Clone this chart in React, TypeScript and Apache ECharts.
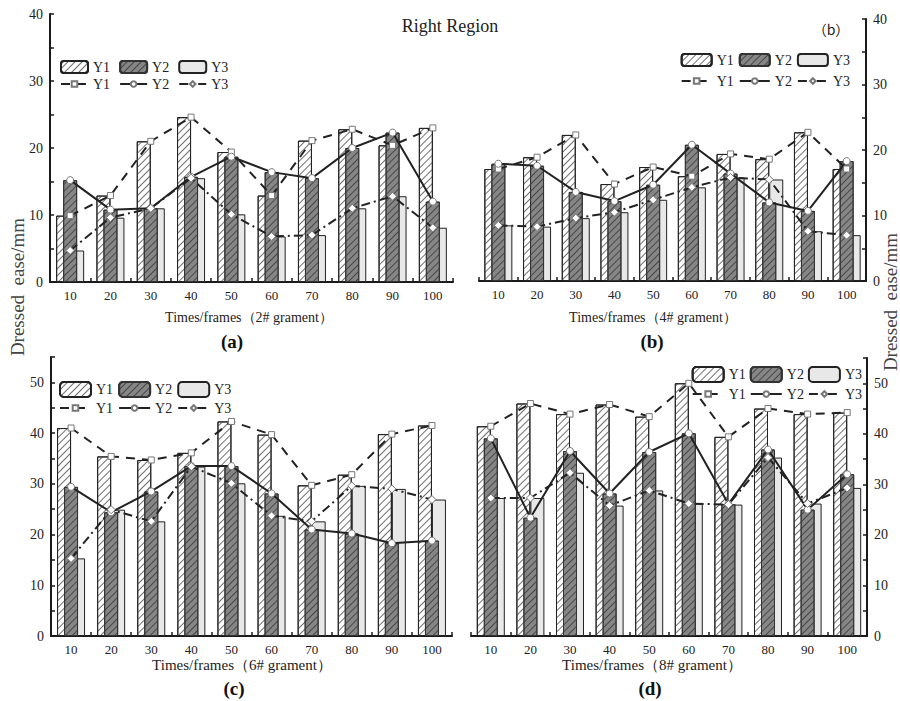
import React, { useEffect, useRef } from "react";
import * as echarts from "echarts";

// Frame counts on the category axis
const categories = ["10", "20", "30", "40", "50", "60", "70", "80", "90", "100"];

// Dressed ease (mm), garment 2#
const g2Y1 = [9.9, 12.9, 21.0, 24.6, 19.4, 12.9, 21.1, 22.8, 20.4, 23.0];
const g2Y2 = [15.2, 10.8, 11.0, 15.7, 18.7, 16.4, 15.5, 20.0, 22.3, 12.0];
const g2Y3 = [4.7, 9.6, 11.0, 15.5, 10.1, 6.8, 7.0, 11.0, 12.8, 8.1];

// Dressed ease (mm), garment 4#
const g4Y1 = [17.1, 18.9, 22.3, 14.8, 17.4, 16.0, 19.4, 18.6, 22.7, 17.1];
const g4Y2 = [17.9, 17.6, 13.6, 12.2, 14.7, 20.8, 16.4, 12.0, 10.7, 18.3];
const g4Y3 = [8.5, 8.3, 9.6, 10.5, 12.4, 14.3, 15.8, 15.5, 7.6, 7.0];

// Dressed ease (mm), garment 6#
const g6Y1 = [41.0, 35.4, 34.7, 36.1, 42.3, 39.7, 29.7, 31.8, 39.8, 41.5];
const g6Y2 = [29.4, 24.4, 28.5, 33.5, 33.5, 28.1, 21.0, 20.2, 18.3, 18.8];
const g6Y3 = [15.3, 24.9, 22.6, 33.4, 30.1, 23.7, 22.6, 29.6, 29.0, 26.9];

// Dressed ease (mm), garment 8#
const g8Y1 = [41.5, 46.0, 43.9, 45.8, 43.4, 50.0, 39.4, 45.0, 43.9, 44.2];
const g8Y2 = [39.1, 23.4, 36.6, 28.2, 36.4, 40.1, 26.1, 36.9, 25.0, 32.0];
const g8Y3 = [27.3, 27.3, 32.3, 25.8, 28.8, 26.2, 26.0, 35.3, 26.2, 29.3];

const garmentNames = ["2#", "4#", "6#", "8#"];
const panelLetters = ["(a)", "(b)", "(c)", "(d)"];
const yMaxes = [40, 40, 55, 55];

const SERIF = '"Liberation Serif", "Times New Roman", serif';
const INK = "#1a1a1a";

// Diagonal "////" hatching for the patterned bars
const hatch = (color: string) => ({
  symbol: "rect",
  symbolSize: 1,
  rotation: -Math.PI / 4,
  color,
  dashArrayX: [1, 0],
  dashArrayY: [1, 4],
});

type Layout = {
  grid: { left: number; top: number; width: number; height: number };
  side: "left" | "right";
  legendPos: { left?: number; right?: number };
  legendTops: [number, number];
  iconW: number;
  iconH: number;
  gap: number;
  nameX: number;
  nameY: number;
  nameSize: number;
  letterX: number;
  letterY: number;
};

const layouts: Layout[] = [
  {
    grid: { left: 50, top: 14, width: 403, height: 268 },
    side: "left",
    legendPos: { left: 60 },
    legendTops: [60, 77],
    iconW: 27,
    iconH: 12,
    gap: 9,
    nameX: 249,
    nameY: 317,
    nameSize: 14,
    letterX: 232,
    letterY: 341,
  },
  {
    grid: { left: 479, top: 19, width: 387, height: 262 },
    side: "right",
    legendPos: { right: 50 },
    legendTops: [53, 74],
    iconW: 30,
    iconH: 12,
    gap: 5,
    nameX: 653,
    nameY: 317,
    nameSize: 14,
    letterX: 652,
    letterY: 341,
  },
  {
    grid: { left: 51, top: 357, width: 401, height: 279 },
    side: "left",
    legendPos: { left: 59 },
    legendTops: [381, 401],
    iconW: 31,
    iconH: 15,
    gap: 5,
    nameX: 242,
    nameY: 665,
    nameSize: 15,
    letterX: 234,
    letterY: 688,
  },
  {
    grid: { left: 471, top: 358, width: 396, height: 278 },
    side: "right",
    legendPos: { right: 38 },
    legendTops: [366, 387],
    iconW: 31,
    iconH: 15,
    gap: 4,
    nameX: 652,
    nameY: 665,
    nameSize: 15,
    letterX: 650,
    letterY: 688,
  },
];

const panelData = [
  [g2Y1, g2Y2, g2Y3],
  [g4Y1, g4Y2, g4Y3],
  [g6Y1, g6Y2, g6Y3],
  [g8Y1, g8Y2, g8Y3],
];

function buildOption() {
  const grid: any[] = [];
  const xAxis: any[] = [];
  const yAxis: any[] = [];
  const series: any[] = [];
  const legend: any[] = [];
  const graphic: any[] = [];

  layouts.forEach((L, i) => {
    grid.push({ ...L.grid, containLabel: false });
    xAxis.push({
      type: "category",
      gridIndex: i,
      data: categories,
      boundaryGap: true,
      axisLine: { lineStyle: { color: INK, width: 2 } },
      axisTick: { show: true, inside: true, length: 4, lineStyle: { color: INK, width: 1.5 } },
      axisLabel: { fontFamily: SERIF, fontSize: 13, color: "#222", margin: 7 },
      splitLine: { show: false },
    });
    yAxis.push({
      type: "value",
      gridIndex: i,
      position: L.side,
      min: 0,
      max: yMaxes[i],
      interval: 5,
      axisLine: { show: true, lineStyle: { color: INK, width: 2 } },
      axisTick: { show: true, inside: true, length: 4, lineStyle: { color: INK, width: 1.5 } },
      axisLabel: {
        fontFamily: SERIF,
        fontSize: 14,
        color: "#222",
        margin: 7,
        formatter: (v: number) => (v % 10 === 0 ? String(v) : ""),
      },
      splitLine: { show: false },
    });

    const [y1, y2, y3] = panelData[i];
    const barBase = {
      type: "bar",
      xAxisIndex: i,
      yAxisIndex: i,
      barWidth: 14,
      barGap: "-50%",
    };
    series.push({
      ...barBase,
      name: "Y1 bar",
      data: y1,
      z: 2,
      itemStyle: { color: "#ffffff", borderColor: "#222", borderWidth: 1, decal: hatch("#707070") },
    });
    series.push({
      ...barBase,
      name: "Y2 bar",
      data: y2,
      z: 3,
      itemStyle: { color: "#868686", borderColor: "#333", borderWidth: 1, decal: hatch("#474747") },
    });
    series.push({
      ...barBase,
      name: "Y3 bar",
      data: y3,
      z: 2,
      itemStyle: { color: "#e8e8e8", borderColor: "#222", borderWidth: 1 },
    });

    const lineBase = {
      type: "line",
      xAxisIndex: i,
      yAxisIndex: i,
      z: 6,
      showSymbol: true,
    };
    series.push({
      ...lineBase,
      name: "Y1 line",
      data: y1,
      symbol: "rect",
      symbolSize: 6,
      lineStyle: { color: "#222", width: 2, type: [9, 7] },
      itemStyle: { color: "#ffffff", borderColor: "#777", borderWidth: 1 },
    });
    series.push({
      ...lineBase,
      name: "Y2 line",
      data: y2,
      symbol: "circle",
      symbolSize: 7,
      lineStyle: { color: "#222", width: 2 },
      itemStyle: { color: "#ffffff", borderColor: "#777", borderWidth: 1 },
    });
    series.push({
      ...lineBase,
      name: "Y3 line",
      data: y3,
      symbol: "diamond",
      symbolSize: 8,
      lineStyle: { color: "#222", width: 2, type: [9, 4, 2, 4] },
      itemStyle: { color: "#ffffff", borderColor: "#777", borderWidth: 1 },
    });

    const legendBase = {
      orient: "horizontal",
      ...L.legendPos,
      itemWidth: L.iconW,
      itemGap: L.gap,
      selectedMode: false,
      padding: 0,
      formatter: (n: string) => n.split(" ")[0],
      textStyle: { fontFamily: SERIF, fontSize: 14, color: "#222" },
    };
    legend.push({
      ...legendBase,
      top: L.legendTops[0],
      itemHeight: L.iconH,
      data: ["Y1 bar", "Y2 bar", "Y3 bar"],
    });
    legend.push({
      ...legendBase,
      top: L.legendTops[1],
      itemHeight: 7,
      data: ["Y1 line", "Y2 line", "Y3 line"],
    });

    graphic.push({
      type: "text",
      x: L.nameX,
      y: L.nameY,
      style: {
        text: `Times/frames（${garmentNames[i]} grament）`,
        font: `${L.nameSize}px ${SERIF}`,
        fill: "#222",
        textAlign: "center",
        textVerticalAlign: "middle",
      },
    });
    graphic.push({
      type: "text",
      x: L.letterX,
      y: L.letterY,
      style: {
        text: panelLetters[i],
        font: `bold 19px ${SERIF}`,
        fill: "#111",
        textAlign: "center",
        textVerticalAlign: "middle",
      },
    });
  });

  graphic.push({
    type: "text",
    x: 450,
    y: 26,
    style: {
      text: "Right Region",
      font: `18px ${SERIF}`,
      fill: "#222",
      textAlign: "center",
      textVerticalAlign: "middle",
    },
  });
  graphic.push({
    type: "text",
    x: 831,
    y: 29,
    style: {
      text: "（b）",
      font: `14px "Noto Sans CJK SC", sans-serif`,
      fill: "#222",
      textAlign: "center",
      textVerticalAlign: "middle",
    },
  });
  [
    { x: 17, y: 287 },
    { x: 890, y: 302 },
  ].forEach((p) =>
    graphic.push({
      type: "text",
      x: p.x,
      y: p.y,
      rotation: Math.PI / 2,
      style: {
        text: "Dressed  ease/mm",
        font: `19px ${SERIF}`,
        fill: "#444",
        textAlign: "center",
        textVerticalAlign: "middle",
      },
    })
  );

  return {
    animation: false,
    backgroundColor: "#ffffff",
    grid,
    xAxis,
    yAxis,
    series,
    legend,
    graphic,
  };
}

export default function App() {
  const ref = useRef<HTMLDivElement>(null);
  useEffect(() => {
    if (!ref.current) return;
    const chart = echarts.init(ref.current, undefined, { renderer: "svg" });
    chart.setOption(buildOption() as any);
    return () => chart.dispose();
  }, []);
  return (
    <div
      ref={ref}
      style={{ position: "fixed", left: 0, top: 0, width: 900, height: 701, background: "#fff" }}
    />
  );
}
